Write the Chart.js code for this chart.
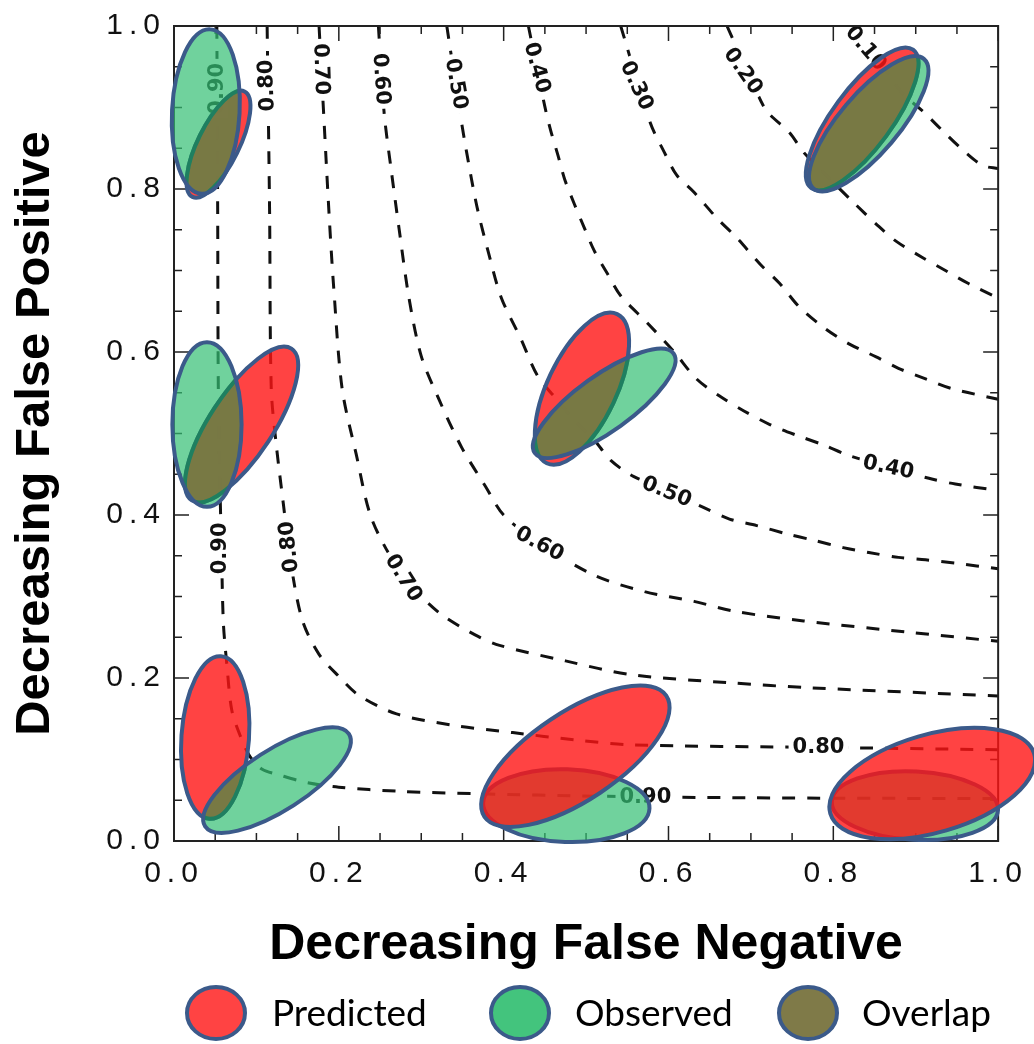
<!DOCTYPE html>
<html>
<head>
<meta charset="utf-8">
<script src="https://cdn.jsdelivr.net/npm/chart.js@4.4.0/dist/chart.umd.min.js"></script>
<style>
  html, body { margin: 0; padding: 0; background: #fff; }
  #wrap { width: 1034px; height: 1044px; }
</style>
</head>
<body>
<div id="wrap"><canvas id="chart" width="1034" height="1044"></canvas></div>
<script>
// Ellipse groups: top-left, mid-left, bottom-left, centre, bottom-centre, top-right, bottom-right
const predX     = [0.054, 0.082, 0.050, 0.495, 0.487, 0.835, 0.920];
const predY     = [0.855, 0.511, 0.127, 0.555, 0.104, 0.886, 0.0705];
const predA     = [0.072, 0.111, 0.100, 0.101, 0.133, 0.105, 0.129];
const predB     = [0.025, 0.0386, 0.041, 0.042, 0.054, 0.036, 0.060];
const predAngle = [64, 57, 86, 65, 34, 54, 16.6];

const obsX     = [0.0386, 0.040, 0.125, 0.522, 0.476, 0.843, 0.899];
const obsY     = [0.895, 0.511, 0.0747, 0.537, 0.0434, 0.880, 0.0434];
const obsA     = [0.101, 0.101, 0.104, 0.104, 0.101, 0.104, 0.101];
const obsB     = [0.041, 0.042, 0.037, 0.034, 0.0446, 0.036, 0.042];
const obsAngle = [87, 90, 33, 36, -2, 50, -3];

// which groups have the predicted ellipse laid over the observed one
const redOnTop = [false, false, false, false, true, false, true];

// Dashed contour lines
const contourLevels = ['0.90', '0.80', '0.70', '0.60', '0.50', '0.40', '0.30', '0.20', '0.10'];
const c90 = [[0.052,1.0],[0.053,0.772],[0.054,0.531],[0.058,0.339],[0.060,0.266],[0.064,0.218],[0.070,0.161],[0.080,0.130],[0.092,0.104],[0.107,0.088],[0.128,0.081],[0.160,0.072],[0.200,0.066],[0.273,0.061],[0.369,0.058],[0.514,0.055],[0.695,0.053],[1.0,0.052]];
const c80 = [[0.113,1.0],[0.116,0.772],[0.118,0.555],[0.124,0.487],[0.133,0.411],[0.142,0.339],[0.156,0.270],[0.176,0.229],[0.200,0.202],[0.224,0.179],[0.270,0.156],[0.339,0.142],[0.411,0.133],[0.487,0.124],[0.555,0.118],[0.772,0.115],[1.0,0.112]];
const c70 = [[0.176,1.0],[0.188,0.772],[0.194,0.676],[0.204,0.555],[0.221,0.475],[0.240,0.395],[0.276,0.327],[0.300,0.300],[0.327,0.276],[0.369,0.251],[0.395,0.240],[0.475,0.221],[0.555,0.204],[0.676,0.194],[0.772,0.188],[1.0,0.178]];
const c60 = [[0.248,1.0],[0.255,0.893],[0.264,0.820],[0.273,0.752],[0.285,0.667],[0.300,0.595],[0.321,0.543],[0.349,0.483],[0.378,0.435],[0.400,0.400],[0.444,0.365],[0.510,0.326],[0.571,0.306],[0.631,0.294],[0.679,0.282],[0.764,0.270],[0.893,0.256],[1.0,0.245]];
const c50 = [[0.331,1.0],[0.349,0.881],[0.361,0.812],[0.369,0.772],[0.381,0.724],[0.397,0.667],[0.421,0.616],[0.441,0.571],[0.466,0.540],[0.486,0.516],[0.510,0.492],[0.530,0.467],[0.558,0.447],[0.598,0.431],[0.643,0.409],[0.674,0.395],[0.707,0.387],[0.743,0.377],[0.776,0.369],[0.812,0.360],[0.843,0.354],[0.879,0.348],[0.912,0.345],[0.948,0.341],[1.0,0.334]];
const c40 = [[0.430,1.0],[0.450,0.901],[0.457,0.872],[0.466,0.841],[0.474,0.812],[0.486,0.781],[0.498,0.752],[0.510,0.724],[0.526,0.696],[0.542,0.669],[0.574,0.636],[0.607,0.600],[0.634,0.567],[0.662,0.546],[0.691,0.528],[0.723,0.511],[0.755,0.498],[0.788,0.486],[0.819,0.473],[0.867,0.459],[0.916,0.445],[0.948,0.438],[1.0,0.430]];
const c30 = [[0.542,1.0],[0.578,0.881],[0.595,0.845],[0.610,0.817],[0.631,0.796],[0.659,0.764],[0.683,0.740],[0.711,0.708],[0.735,0.684],[0.759,0.655],[0.791,0.628],[0.819,0.610],[0.852,0.594],[0.879,0.580],[0.912,0.567],[0.944,0.555],[1.0,0.542]];
const c20 = [[0.671,1.0],[0.700,0.935],[0.719,0.896],[0.747,0.869],[0.764,0.845],[0.791,0.817],[0.824,0.784],[0.852,0.757],[0.876,0.736],[0.908,0.716],[0.936,0.700],[0.964,0.684],[1.0,0.666]];
const c10 = [[0.819,1.0],[0.857,0.955],[0.884,0.917],[0.908,0.896],[0.932,0.872],[0.957,0.848],[0.981,0.829],[1.0,0.825]];
const contours = [c90, c80, c70, c60, c50, c40, c30, c20, c10];

// Contour labels (text, position on the line, angle of the line)
const labelText  = ['0.90','0.80','0.70','0.60','0.50','0.40','0.30','0.20','0.10','0.90','0.80','0.70','0.60','0.50','0.40','0.80','0.90'];
const labelX     = [0.052, 0.112, 0.179, 0.252, 0.343, 0.441, 0.562, 0.691, 0.840, 0.055, 0.139, 0.279, 0.444, 0.598, 0.867, 0.782, 0.572];
const labelY     = [0.923, 0.927, 0.947, 0.935, 0.929, 0.949, 0.927, 0.945, 0.973, 0.359, 0.361, 0.323, 0.365, 0.429, 0.459, 0.116, 0.055];
const labelAngle = [-90, -92, 88, 86, 80, 75, 65, 55, 50, -90, -96, 58, 28, 22, 12, 0, 0];

const majorTicks = [0, 0.2, 0.4, 0.6, 0.8, 1.0];
const minorTicks = [0.05, 0.1, 0.15, 0.25, 0.3, 0.35, 0.45, 0.5, 0.55, 0.65, 0.7, 0.75, 0.85, 0.9, 0.95];

const legendLabels = ['Predicted', 'Observed', 'Overlap'];

// colours
const RED = 'rgba(255, 20, 20, 0.8)';
const GREEN = 'rgba(51, 191, 116, 0.7)';
const OLIVE = 'rgba(122, 118, 66, 0.92)';
const TEAL = '#1f7f60';
const BLUE = '#3b5a8a';
const legendFill = ['#ff4343', '#43c47d', '#7f7a48'];

function ellipsePath(ctx, x, y, cx, cy, a, b, deg) {
    const sx = x.getPixelForValue(1) - x.getPixelForValue(0);
    const sy = y.getPixelForValue(0) - y.getPixelForValue(1);
    ctx.save();
    ctx.translate(x.getPixelForValue(cx), y.getPixelForValue(cy));
    ctx.scale(sx, -sy);
    ctx.rotate(deg * Math.PI / 180);
    ctx.beginPath();
    ctx.ellipse(0, 0, a, b, 0, 0, Math.PI * 2);
    ctx.restore();
}

function drawGroup(ctx, x, y, i) {
    const pred = () => ellipsePath(ctx, x, y, predX[i], predY[i], predA[i], predB[i], predAngle[i]);
    const obs = () => ellipsePath(ctx, x, y, obsX[i], obsY[i], obsA[i], obsB[i], obsAngle[i]);
    ctx.lineWidth = 4;
    ctx.lineJoin = 'round';
    if (redOnTop[i]) {
        obs(); ctx.fillStyle = GREEN; ctx.fill(); ctx.strokeStyle = BLUE; ctx.stroke();
        pred(); ctx.fillStyle = RED; ctx.fill(); ctx.strokeStyle = BLUE; ctx.stroke();
    } else {
        pred(); ctx.fillStyle = RED; ctx.fill(); ctx.strokeStyle = BLUE; ctx.stroke();
        obs(); ctx.fillStyle = GREEN; ctx.fill();
        // overlap region
        ctx.save();
        obs(); ctx.clip();
        pred(); ctx.fillStyle = OLIVE; ctx.fill();
        ctx.strokeStyle = TEAL; ctx.stroke();
        ctx.restore();
        obs(); ctx.strokeStyle = BLUE; ctx.stroke();
    }
}

function drawContourLabels(ctx, x, y) {
    ctx.save();
    ctx.font = 'bold 21px "DejaVu Sans"';
    ctx.textAlign = 'center';
    ctx.textBaseline = 'middle';
    labelText.forEach((t, i) => {
        const w = ctx.measureText(t).width;
        ctx.save();
        ctx.translate(x.getPixelForValue(labelX[i]), y.getPixelForValue(labelY[i]));
        ctx.rotate(labelAngle[i] * Math.PI / 180);
        ctx.fillStyle = '#fff';
        ctx.fillRect(-w / 2 - 4, -11, w + 8, 22);
        ctx.fillStyle = '#111';
        ctx.fillText(t, 0, 1);
        ctx.restore();
    });
    ctx.restore();
}

function drawFrame(ctx, area, x, y) {
    ctx.save();
    ctx.strokeStyle = '#222';
    ctx.lineWidth = 1.5;
    const tick = (v, len) => {
        const px = x.getPixelForValue(v);
        const py = y.getPixelForValue(v);
        ctx.beginPath();
        ctx.moveTo(px, area.bottom); ctx.lineTo(px, area.bottom - len);
        ctx.moveTo(px, area.top); ctx.lineTo(px, area.top + len);
        ctx.moveTo(area.left, py); ctx.lineTo(area.left + len, py);
        ctx.moveTo(area.right, py); ctx.lineTo(area.right - len, py);
        ctx.stroke();
    };
    majorTicks.forEach(v => tick(v, 15));
    minorTicks.forEach(v => tick(v, 8));
    ctx.lineWidth = 2;
    ctx.strokeRect(area.left, area.top, area.right - area.left, area.bottom - area.top);
    ctx.restore();
}

function drawLegend(ctx) {
    const cy = 1013;
    const iconX = [216, 520, 808];
    const textX = [272, 575, 862];
    ctx.save();
    legendLabels.forEach((t, i) => {
        ctx.beginPath();
        ctx.ellipse(iconX[i], cy, 29, 26, 0, 0, Math.PI * 2);
        ctx.fillStyle = legendFill[i];
        ctx.fill();
        ctx.lineWidth = 4;
        ctx.strokeStyle = BLUE;
        ctx.stroke();
        ctx.font = '37px Lato';
        ctx.fillStyle = '#000';
        ctx.textAlign = 'left';
        ctx.textBaseline = 'middle';
        ctx.fillText(t, textX[i], cy + 1);
    });
    ctx.restore();
}

const sketchPlugin = {
    id: 'sketch',
    beforeDraw(chart) {
        chart.ctx.letterSpacing = '0px';
    },
    afterDatasetsDraw(chart) {
        const { ctx, chartArea, scales: { x, y } } = chart;
        drawContourLabels(ctx, x, y);
        drawFrame(ctx, chartArea, x, y);
        for (let i = 0; i < predX.length; i++) drawGroup(ctx, x, y, i);
        // tick labels (z: 1) are drawn next; the printed numbers are wide and loosely spaced
        ctx.letterSpacing = '6px';
    },
    afterDraw(chart) {
        chart.ctx.letterSpacing = '0px';
        drawLegend(chart.ctx);
    }
};

const datasets = contours.map((pts, k) => ({
    label: contourLevels[k],
    data: pts.map(p => ({ x: p[0], y: p[1] })),
    showLine: true,
    borderColor: '#111',
    borderWidth: 3,
    borderDash: [13, 12],
    pointRadius: 0,
    tension: 0.3,
    fill: false
}));

const tickFont = { family: 'Liberation Sans', size: 30 };

new Chart(document.getElementById('chart'), {
    type: 'scatter',
    data: { datasets },
    options: {
        responsive: false,
        animation: false,
        devicePixelRatio: 1,
        layout: { padding: { left: 0, top: 12, right: 31, bottom: 0 } },
        plugins: {
            legend: { display: false },
            tooltip: { enabled: false }
        },
        scales: {
            x: {
                type: 'linear',
                position: 'bottom',
                min: 0,
                max: 1,
                afterFit: s => { s.height = 203; },
                ticks: {
                    z: 1,
                    stepSize: 0.2,
                    autoSkip: false,
                    maxRotation: 0,
                    padding: 15,
                    color: '#111',
                    font: tickFont,
                    callback: v => v.toFixed(1)
                },
                grid: { display: false, drawTicks: false },
                border: { display: false },
                title: {
                    display: true,
                    text: 'Decreasing False Negative',
                    color: '#000',
                    font: { family: 'Liberation Sans', size: 50, weight: 'bold' },
                    padding: { top: 0, bottom: 69 }
                }
            },
            y: {
                type: 'linear',
                min: 0,
                max: 1,
                afterFit: s => { s.width = 174; },
                ticks: {
                    z: 1,
                    stepSize: 0.2,
                    autoSkip: false,
                    padding: 8,
                    color: '#111',
                    font: tickFont,
                    callback: v => v.toFixed(1)
                },
                grid: { display: false, drawTicks: false },
                border: { display: false },
                title: {
                    display: true,
                    text: 'Decreasing False Positive',
                    color: '#000',
                    font: { family: 'Liberation Sans', size: 49, weight: 'bold' },
                    padding: { top: 6, bottom: 0 }
                }
            }
        }
    },
    plugins: [sketchPlugin]
});
</script>
</body>
</html>
